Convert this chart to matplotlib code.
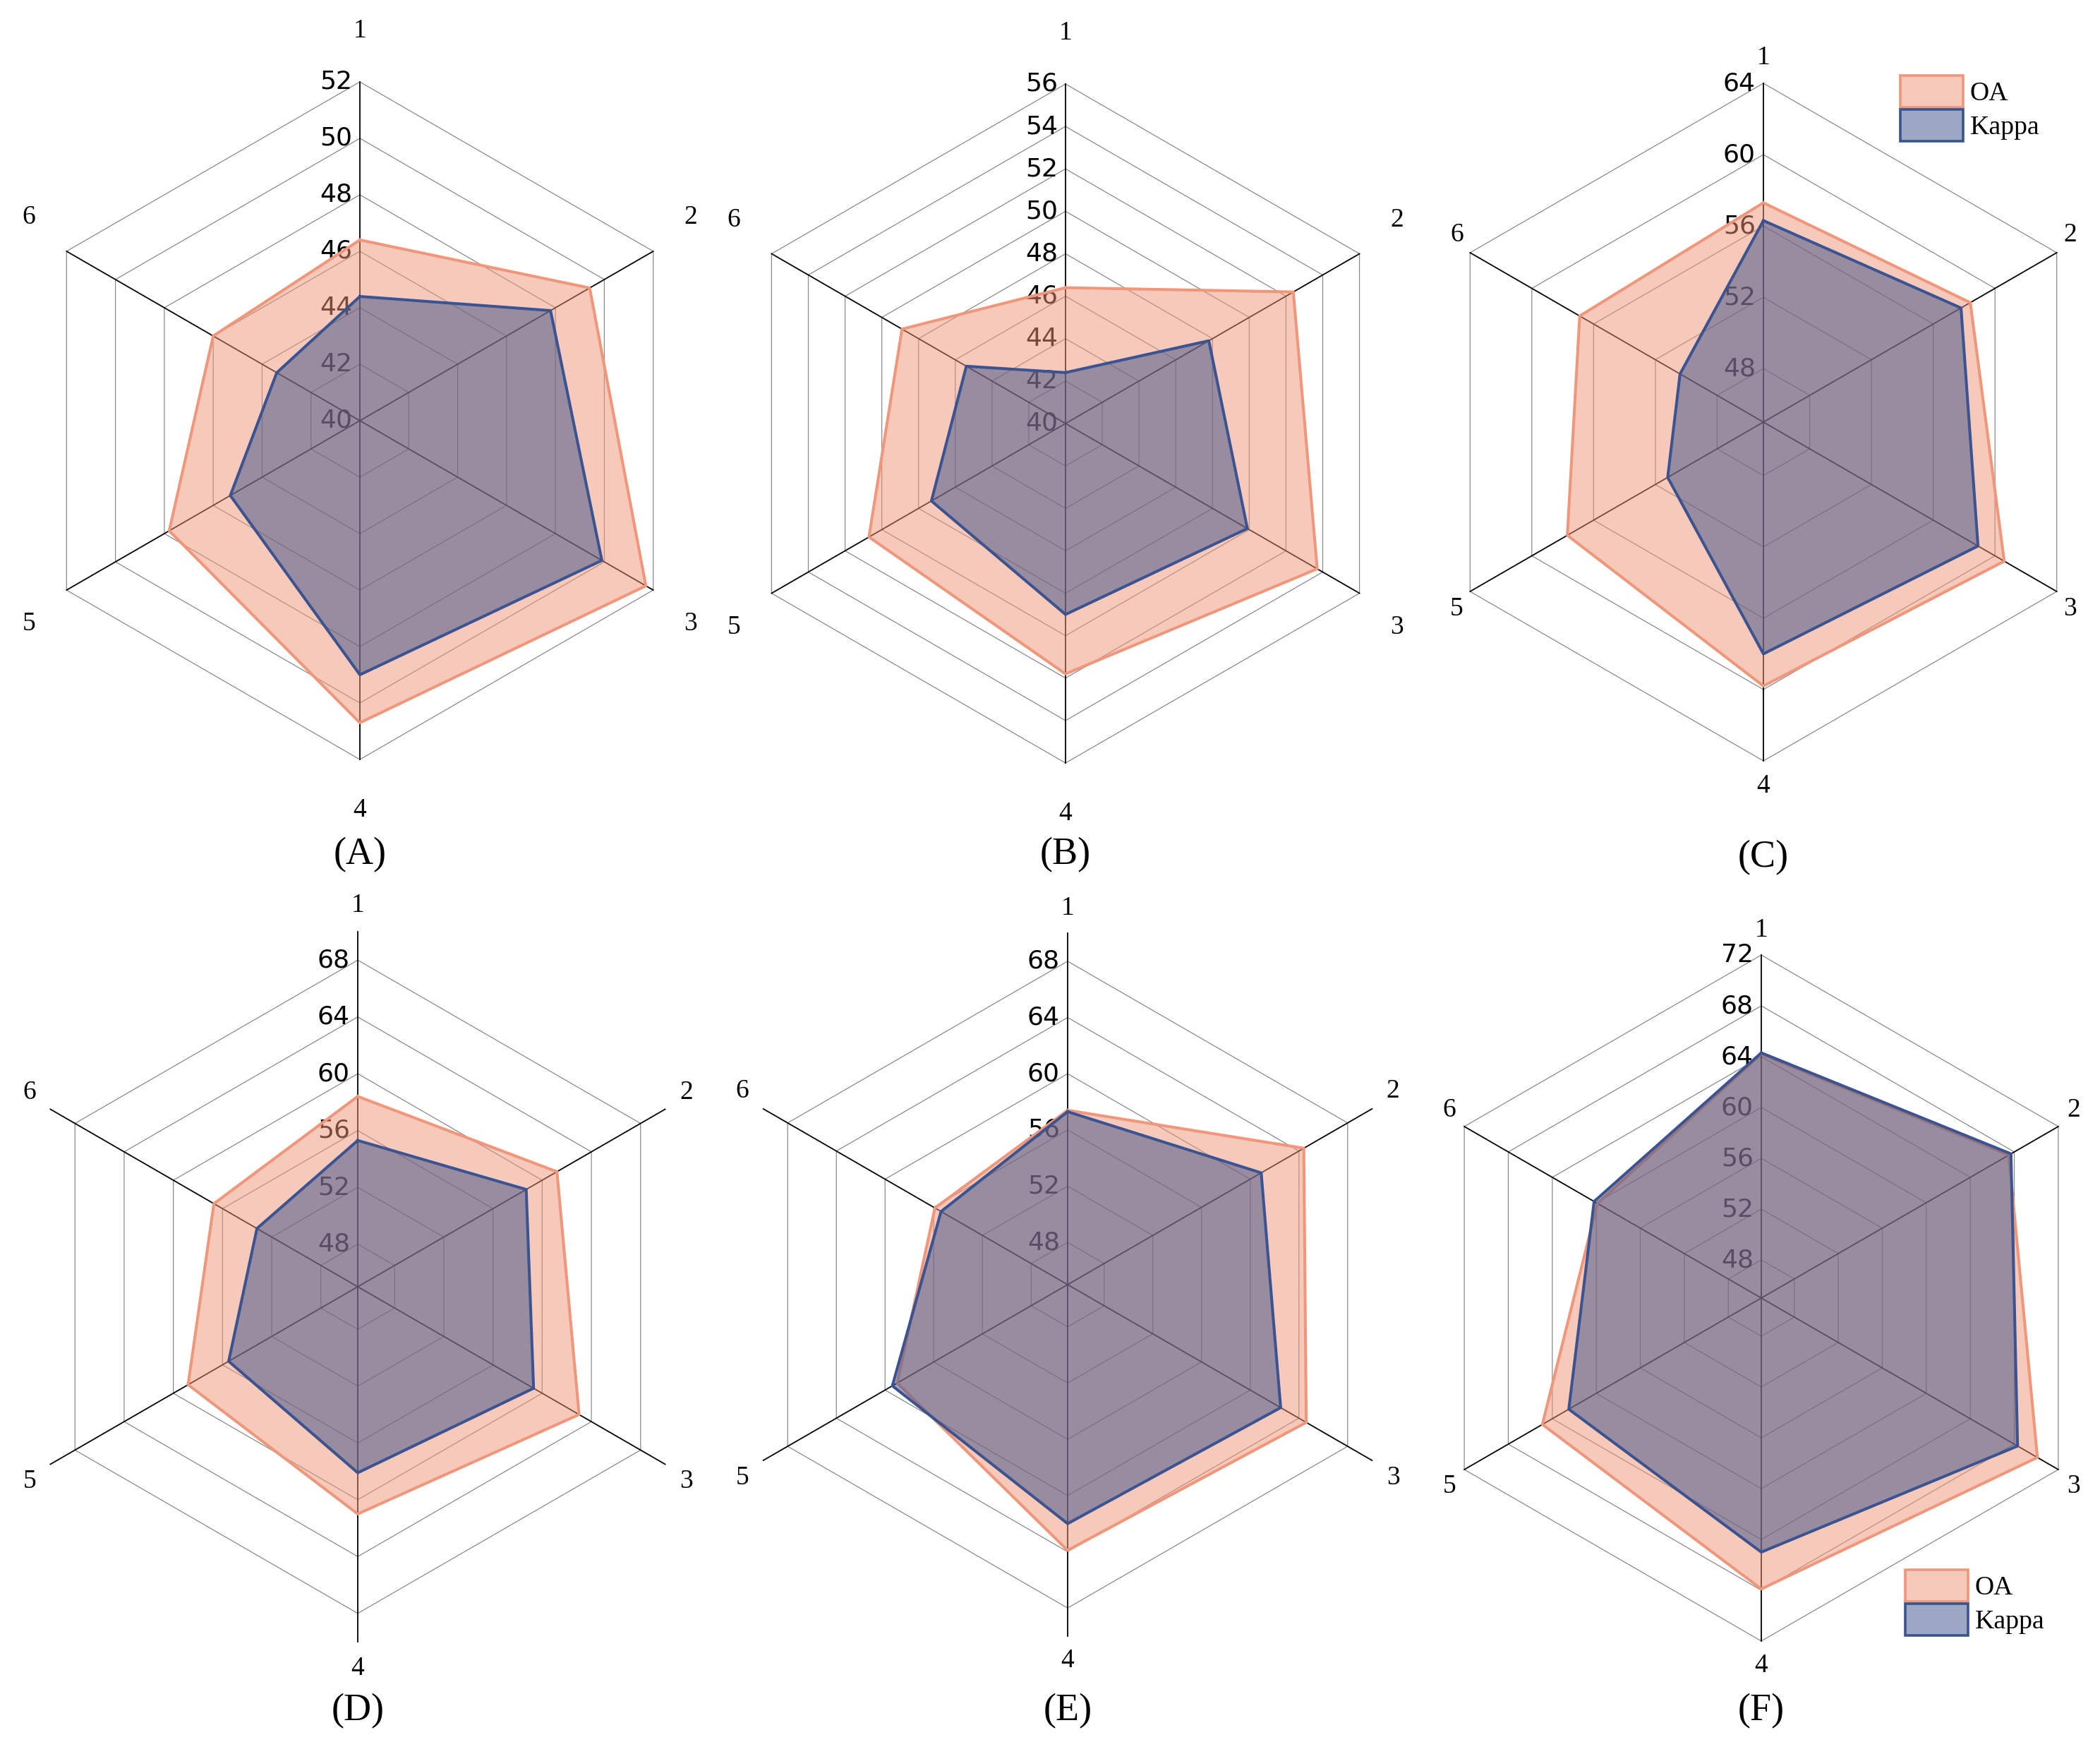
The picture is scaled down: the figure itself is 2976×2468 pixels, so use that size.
import numpy as np
import matplotlib
matplotlib.use('Agg')
import matplotlib.pyplot as plt
from matplotlib.patches import Patch

# ── Data ─────────────────────────────────────────────────────────────────────
axis_names = ['1', '2', '3', '4', '5', '6']
panel_names = ['(A)', '(B)', '(C)', '(D)', '(E)', '(F)']
series_names = ['OA', 'Kappa']

oa_a = [46.4, 49.4, 51.7, 50.7, 47.8, 46.0]
kappa_a = [44.4, 47.8, 49.9, 49.0, 45.3, 43.4]
oa_b = [46.4, 52.4, 53.7, 51.8, 50.7, 48.9]
kappa_b = [42.4, 47.8, 49.9, 49.0, 47.3, 45.4]
oa_c = [57.3, 58.4, 60.6, 59.8, 57.7, 56.9]
kappa_c = [56.3, 57.8, 58.9, 58.0, 51.2, 50.4]
oa_d = [58.4, 61.2, 63.0, 61.0, 58.8, 56.7]
kappa_d = [55.3, 58.7, 59.3, 58.1, 55.5, 53.2]
oa_e = [57.4, 64.4, 64.6, 63.9, 59.0, 55.9]
kappa_e = [57.3, 60.9, 62.5, 62.0, 59.4, 55.4]
oa_f = [64.2, 67.5, 70.1, 67.9, 64.9, 59.9]
kappa_f = [64.3, 67.7, 68.3, 65.0, 62.5, 60.2]

ticks_a = [40, 42, 44, 46, 48, 50, 52]
ticks_b = [40, 42, 44, 46, 48, 50, 52, 54, 56]
ticks_c = [48, 52, 56, 60, 64]
ticks_d = [48, 52, 56, 60, 64, 68]
ticks_e = [48, 52, 56, 60, 64, 68]
ticks_f = [48, 52, 56, 60, 64, 68, 72]

ranges = [(40, 52), (40, 56), (45, 64), (45, 70), (45, 70), (45, 72)]

# ── Layout (pixels in the 2976 x 2468 canvas) ────────────────────────────────
W, H, DPI = 2976, 2468, 200
centres = [(510, 596), (1510, 600), (2499, 598), (507, 1823), (1513, 1820), (2496, 1839)]
radii = [480, 481, 480, 503, 498, 486]
label_pos = [(1.15, 0.977, 0.60), (1.15, 0.977, 0.60), (1.075, 0.905, 0.552),
             (1.075, 0.925, 0.548), (1.07, 0.926, 0.55), (1.072, 0.91, 0.548)]
title_y = [1211, 1211, 1215, 2424, 2424, 2424]
legend_at = {2: (2693, 107), 5: (2700, 2224)}

OA_EDGE = '#F0967A'
OA_FILL = (239 / 255, 149 / 255, 119 / 255, 0.5)
K_EDGE = '#3B5390'
K_FILL = (59 / 255, 81 / 255, 137 / 255, 0.5)
GRID = '#8a8a8a'
PAD = 1.35

fig = plt.figure(figsize=(W / DPI, H / DPI), dpi=DPI)

data = list(zip([oa_a, oa_b, oa_c, oa_d, oa_e, oa_f],
                [kappa_a, kappa_b, kappa_c, kappa_d, kappa_e, kappa_f],
                [ticks_a, ticks_b, ticks_c, ticks_d, ticks_e, ticks_f]))

ang = np.deg2rad(np.arange(6) * 60.0)
ang_c = np.append(ang, ang[0])

for i, (oa, kappa, ticks) in enumerate(data):
    cx, cy = centres[i]
    R = radii[i]
    lo, hi = ranges[i]
    side = 2 * PAD * R
    ax = fig.add_axes([(cx - PAD * R) / W, (H - cy - PAD * R) / H, side / W, side / H],
                      projection='polar')
    ax.set_theta_zero_location('N')
    ax.set_theta_direction(-1)
    ax.set_ylim(lo, lo + PAD * (hi - lo))
    ax.set_axis_off()

    # hexagonal grid rings + tick labels
    for t in ticks:
        if t > lo:
            ax.plot(ang_c, [t] * 7, color=GRID, lw=0.45, zorder=1)
        ax.annotate(str(t), xy=(0, t), xytext=(-4, 0), textcoords='offset points',
                    ha='right', va='center', fontsize=13, family='DejaVu Sans',
                    color='black', zorder=2)
    # spokes
    for a in ang:
        ax.plot([a, a], [lo, hi], color='black', lw=0.65, zorder=1.5)

    # series
    oa_c_ = list(oa) + [oa[0]]
    k_c_ = list(kappa) + [kappa[0]]
    ax.fill(ang_c, oa_c_, facecolor=OA_FILL, edgecolor='none', zorder=3)
    ax.plot(ang_c, oa_c_, color=OA_EDGE, lw=1.45, zorder=3.5)
    ax.fill(ang_c, k_c_, facecolor=K_FILL, edgecolor='none', zorder=4)
    ax.plot(ang_c, k_c_, color=K_EDGE, lw=1.45, zorder=4.5)

    # axis labels
    lv, ldx, ldy = label_pos[i]
    for a, name in zip(ang, axis_names):
        s, c = np.sin(a), np.cos(a)
        if abs(s) < 1e-6:
            x, y = 0.0, lv * np.sign(c)
        else:
            x, y = ldx * np.sign(s), ldy * np.sign(c)
        rn = np.hypot(x, y)
        th = np.arctan2(x, y)
        ax.text(th, lo + rn * (hi - lo), name, ha='center', va='center',
                fontsize=13.5, family='Liberation Serif', color='black')

    fig.text(cx / W, 1 - title_y[i] / H, panel_names[i], ha='center', va='center',
             fontsize=19.5, family='Liberation Serif')

    if i in legend_at:
        lx, ly = legend_at[i]
        handles = [Patch(facecolor=OA_FILL, edgecolor=OA_EDGE, lw=1.3, label=series_names[0]),
                   Patch(facecolor=K_FILL, edgecolor=K_EDGE, lw=1.3, label=series_names[1])]
        ax.legend(handles=handles, loc='upper left', bbox_to_anchor=(lx / W, 1 - ly / H),
                  bbox_transform=fig.transFigure, frameon=False,
                  prop={'family': 'Liberation Serif', 'size': 13.6},
                  handlelength=2.35, handleheight=1.45, handletextpad=0.27,
                  labelspacing=0.08, borderpad=0, borderaxespad=0)

fig.savefig('out.png', dpi=DPI)
